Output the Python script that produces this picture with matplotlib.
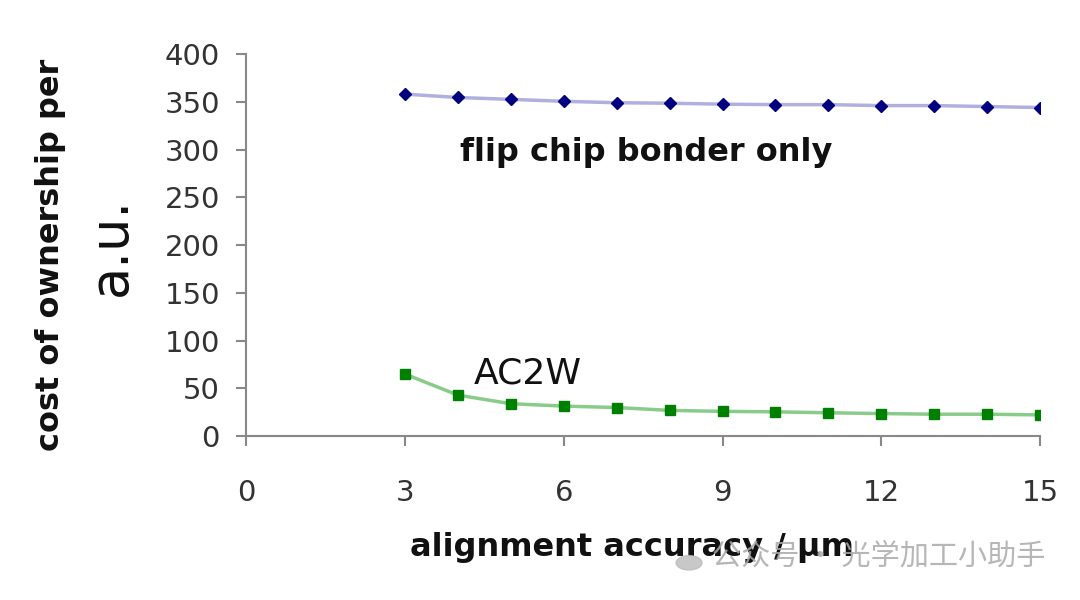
import numpy as np
import matplotlib.pyplot as plt
from matplotlib.patches import Circle

accuracy = [3, 4, 5, 6, 7, 8, 9, 10, 11, 12, 13, 14, 15]
flip_chip = [358, 354.5, 352.5, 350.5, 349, 348.5, 347.5, 347, 347, 346, 346, 345, 344]
ac2w = [65, 43, 34, 31.5, 30, 27, 26, 25.5, 24.5, 23.7, 23, 23, 22.3]

x_ticks = [0, 3, 6, 9, 12, 15]
y_ticks = np.arange(0, 401, 50)

plt.rcParams['font.family'] = ['DejaVu Sans', 'Noto Sans CJK SC']

fig = plt.figure(figsize=(10.8, 6), dpi=100)
ax = fig.add_axes([0.228, 0.273, 0.735, 0.637])

ax.plot(accuracy, flip_chip, color="#9c9cd8", lw=2.5, alpha=0.8, zorder=2)
ax.plot(accuracy, flip_chip, ls="none", marker="D", ms=6.5, color="#000080", zorder=3)
ax.plot(accuracy, ac2w, color="#6cbf6c", lw=2.5, alpha=0.8, zorder=2)
ax.plot(accuracy, ac2w, ls="none", marker="s", ms=7, color="#008000", zorder=3)

ax.set_xlim(0, 15)
ax.set_ylim(0, 400)
ax.set_xticks(x_ticks)
ax.set_yticks(y_ticks)

for s in ["top", "right"]:
    ax.spines[s].set_visible(False)
for s in ["left", "bottom"]:
    ax.spines[s].set_color("#888888")
    ax.spines[s].set_linewidth(1.5)

ax.tick_params(axis="y", direction="out", length=7, width=1.5, color="#888888",
               labelsize=21, labelcolor="#333333", pad=12)
ax.tick_params(axis="x", direction="out", length=7, width=1.5, color="#888888",
               labelsize=21, labelcolor="#333333", pad=24)

ax.text(4.04, 297, "flip chip bonder only", fontsize=23, fontweight="bold", color="#111111",
        va="center", ha="left")
ax.text(4.29, 66, "AC2W", fontsize=26, color="#111111", va="center", ha="left")

fig.text(0.047, 0.575, "cost of ownership per", rotation=90, fontsize=23, fontweight="bold",
         va="center", ha="center", color="#111111")
fig.text(0.103, 0.59, "a.u.", rotation=90, fontsize=38, va="center", ha="center", color="#111111")
fig.text(0.585, 0.087, "alignment accuracy / µm", fontsize=23, fontweight="bold",
         va="center", ha="center", color="#111111")

# watermark
fig.patches.append(Circle((0.638, 0.062), 0.012, transform=fig.transFigure,
                          color="#bbbbbb", alpha=0.8, zorder=5))
fig.text(0.659, 0.072, "公众号 · 光学加工小助手", fontsize=21, color="#aaaaaa", alpha=0.85,
         va="center", ha="left", family=['Noto Sans CJK SC', 'DejaVu Sans'], zorder=6)

fig.savefig("out.png", dpi=100)
